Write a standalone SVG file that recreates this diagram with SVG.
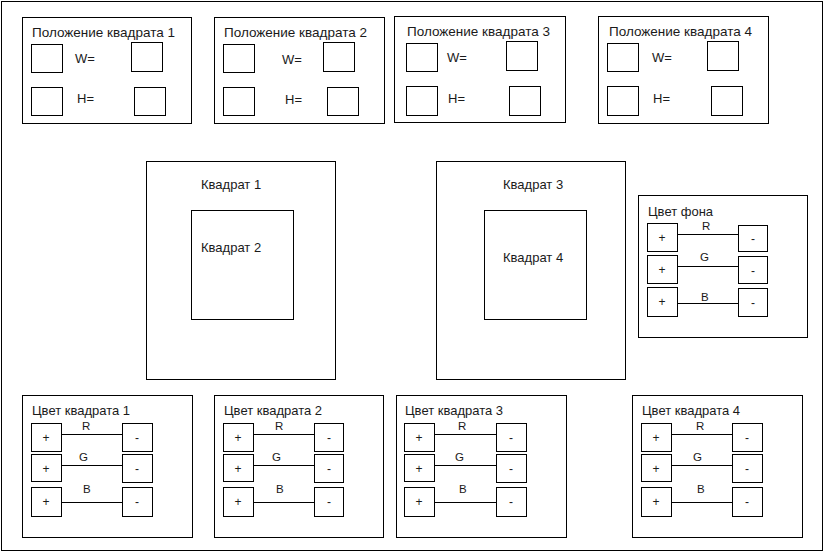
<svg xmlns="http://www.w3.org/2000/svg" width="826" height="553" viewBox="0 0 826 553">
<style>
rect{fill:#fff;stroke:#000;stroke-width:1}
line{stroke:#000;stroke-width:1}
text{font-family:"Liberation Sans",Arial,sans-serif;fill:#1a1a1a}
.t{font-size:13px}
.tp{font-size:13.5px}
.s{font-size:13px}
.c{font-size:11.5px}
.pm{font-size:12px;text-anchor:middle}
</style>
<rect id="frame" x="1.5" y="1.5" width="821" height="549"/>

<g id="pos1">
<rect x="22.5" y="17.5" width="169" height="106"/>
<text class="tp" x="32" y="37">Положение квадрата 1</text>
<rect x="31.5" y="44.5" width="31" height="28"/>
<rect x="131.5" y="42.5" width="31" height="29"/>
<rect x="31.5" y="87.5" width="31" height="28"/>
<rect x="134.5" y="87.5" width="31" height="28"/>
<text class="s" x="75" y="63">W=</text>
<text class="s" x="77" y="103">H=</text>
</g>
<g id="pos2">
<rect x="214.5" y="17.5" width="170" height="106"/>
<text class="tp" x="224" y="37">Положение квадрата 2</text>
<rect x="223.5" y="44.5" width="31" height="28"/>
<rect x="323.5" y="42.5" width="31" height="29"/>
<rect x="223.5" y="87.5" width="31" height="28"/>
<rect x="327.5" y="87.5" width="31" height="28"/>
<text class="s" x="282" y="64">W=</text>
<text class="s" x="285" y="104">H=</text>
</g>
<g id="pos3">
<rect x="394.5" y="16.5" width="171" height="106"/>
<text class="tp" x="407" y="36">Положение квадрата 3</text>
<rect x="406.5" y="43.5" width="31" height="28"/>
<rect x="506.5" y="41.5" width="31" height="29"/>
<rect x="406.5" y="86.5" width="31" height="29"/>
<rect x="509.5" y="86.5" width="31" height="29"/>
<text class="s" x="447" y="62">W=</text>
<text class="s" x="448" y="103">H=</text>
</g>
<g id="pos4">
<rect x="598.5" y="16.5" width="170" height="107"/>
<text class="tp" x="609" y="36">Положение квадрата 4</text>
<rect x="607.5" y="43.5" width="31" height="28"/>
<rect x="707.5" y="41.5" width="31" height="29"/>
<rect x="607.5" y="86.5" width="31" height="29"/>
<rect x="711.5" y="86.5" width="31" height="29"/>
<text class="s" x="652" y="62">W=</text>
<text class="s" x="653" y="103">H=</text>
</g>

<g id="sq1">
<rect x="146.5" y="161.5" width="189" height="218"/>
<text class="t" x="201" y="189">Квадрат 1</text>
</g>
<g id="sq2">
<rect x="191.5" y="210.5" width="102" height="109"/>
<text class="t" x="201" y="252">Квадрат 2</text>
</g>
<g id="sq3">
<rect x="436.5" y="161.5" width="189" height="218"/>
<text class="t" x="503" y="189">Квадрат 3</text>
</g>
<g id="sq4">
<rect x="484.5" y="210.5" width="102" height="109"/>
<text class="t" x="503" y="262">Квадрат 4</text>
</g>

<g id="bg">
<rect x="638.5" y="195.5" width="169" height="142"/>
<text class="t" x="648" y="216">Цвет фона</text>
<rect x="647.5" y="223.5" width="30" height="28"/><text class="pm" x="662" y="242">+</text>
<rect x="647.5" y="255.5" width="30" height="28"/><text class="pm" x="662" y="274">+</text>
<rect x="647.5" y="287.5" width="30" height="29"/><text class="pm" x="662" y="306">+</text>
<rect x="738.5" y="225.5" width="29" height="26"/><text class="pm" x="753" y="243">-</text>
<rect x="738.5" y="256.5" width="29" height="27"/><text class="pm" x="753" y="275">-</text>
<rect x="738.5" y="288.5" width="29" height="28"/><text class="pm" x="753" y="307">-</text>
<text class="c" x="702" y="230">R</text>
<text class="c" x="700" y="261">G</text>
<text class="c" x="701" y="301">B</text>
</g>

<g id="col1">
<rect x="22.5" y="395.5" width="170" height="142"/>
<text class="t" x="32" y="415">Цвет квадрата 1</text>
<rect x="31.5" y="423.5" width="30" height="28"/><text class="pm" x="46" y="442">+</text>
<rect x="31.5" y="454.5" width="30" height="27"/><text class="pm" x="46" y="473">+</text>
<rect x="31.5" y="487.5" width="30" height="29"/><text class="pm" x="46" y="506">+</text>
<rect x="122.5" y="423.5" width="30" height="28"/><text class="pm" x="137" y="442">-</text>
<rect x="122.5" y="454.5" width="30" height="28"/><text class="pm" x="137" y="473">-</text>
<rect x="122.5" y="487.5" width="30" height="29"/><text class="pm" x="137" y="506">-</text>
<text class="c" x="82" y="430">R</text>
<text class="c" x="79" y="461">G</text>
<text class="c" x="83" y="493">B</text>
</g>
<g id="col2">
<rect x="214.5" y="395.5" width="169" height="142"/>
<text class="t" x="224" y="415">Цвет квадрата 2</text>
<rect x="223.5" y="423.5" width="30" height="28"/><text class="pm" x="238" y="442">+</text>
<rect x="223.5" y="454.5" width="30" height="27"/><text class="pm" x="238" y="473">+</text>
<rect x="223.5" y="487.5" width="30" height="29"/><text class="pm" x="238" y="506">+</text>
<rect x="314.5" y="423.5" width="29" height="28"/><text class="pm" x="329" y="442">-</text>
<rect x="314.5" y="454.5" width="29" height="28"/><text class="pm" x="329" y="473">-</text>
<rect x="314.5" y="487.5" width="29" height="29"/><text class="pm" x="329" y="506">-</text>
<text class="c" x="275" y="430">R</text>
<text class="c" x="272" y="461">G</text>
<text class="c" x="276" y="493">B</text>
</g>
<g id="col3">
<rect x="396.5" y="395.5" width="170" height="142"/>
<text class="t" x="405" y="415">Цвет квадрата 3</text>
<rect x="404.5" y="423.5" width="30" height="28"/><text class="pm" x="419" y="442">+</text>
<rect x="404.5" y="454.5" width="30" height="27"/><text class="pm" x="419" y="473">+</text>
<rect x="404.5" y="487.5" width="30" height="29"/><text class="pm" x="419" y="506">+</text>
<rect x="496.5" y="423.5" width="30" height="28"/><text class="pm" x="511" y="442">-</text>
<rect x="496.5" y="454.5" width="30" height="28"/><text class="pm" x="511" y="473">-</text>
<rect x="496.5" y="487.5" width="30" height="29"/><text class="pm" x="511" y="506">-</text>
<text class="c" x="458" y="430">R</text>
<text class="c" x="455" y="461">G</text>
<text class="c" x="459" y="493">B</text>
</g>
<g id="col4">
<rect x="632.5" y="395.5" width="170" height="142"/>
<text class="t" x="642" y="415">Цвет квадрата 4</text>
<rect x="641.5" y="423.5" width="30" height="28"/><text class="pm" x="656" y="442">+</text>
<rect x="641.5" y="454.5" width="30" height="27"/><text class="pm" x="656" y="473">+</text>
<rect x="641.5" y="487.5" width="30" height="29"/><text class="pm" x="656" y="506">+</text>
<rect x="732.5" y="423.5" width="30" height="28"/><text class="pm" x="747" y="442">-</text>
<rect x="732.5" y="454.5" width="30" height="28"/><text class="pm" x="747" y="473">-</text>
<rect x="732.5" y="487.5" width="30" height="29"/><text class="pm" x="747" y="506">-</text>
<text class="c" x="696" y="430">R</text>
<text class="c" x="693" y="461">G</text>
<text class="c" x="697" y="493">B</text>
</g>

<g id="connectors">
<line x1="677.5" y1="234.5" x2="738.5" y2="234.5"/>
<line x1="677.5" y1="266.5" x2="738.5" y2="266.5"/>
<line x1="677.5" y1="303.5" x2="738.5" y2="303.5"/>
<line x1="61.5" y1="434.5" x2="122.5" y2="434.5"/>
<line x1="61.5" y1="465.5" x2="122.5" y2="465.5"/>
<line x1="61.5" y1="502.5" x2="122.5" y2="502.5"/>
<line x1="253.5" y1="434.5" x2="314.5" y2="434.5"/>
<line x1="253.5" y1="465.5" x2="314.5" y2="465.5"/>
<line x1="253.5" y1="502.5" x2="314.5" y2="502.5"/>
<line x1="434.5" y1="434.5" x2="496.5" y2="434.5"/>
<line x1="434.5" y1="465.5" x2="496.5" y2="465.5"/>
<line x1="434.5" y1="502.5" x2="496.5" y2="502.5"/>
<line x1="671.5" y1="434.5" x2="732.5" y2="434.5"/>
<line x1="671.5" y1="465.5" x2="732.5" y2="465.5"/>
<line x1="671.5" y1="502.5" x2="732.5" y2="502.5"/>
</g>
</svg>
